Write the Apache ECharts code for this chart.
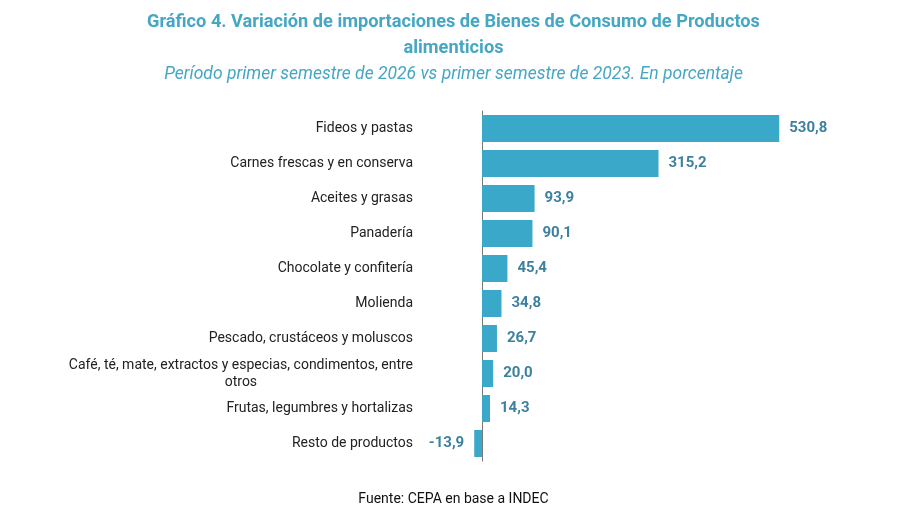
<!DOCTYPE html>
<html>
<head>
<meta charset="utf-8">
<script src="https://cdn.jsdelivr.net/npm/echarts@6/dist/echarts.min.js"></script>
<style>
  html, body { margin: 0; padding: 0; background: #fff; }
  #chart { width: 907px; height: 511px; }
</style>
</head>
<body>
<div id="chart"></div>
<script>
// categorias (de arriba hacia abajo)
var categorias = [
  'Fideos y pastas',
  'Carnes frescas y en conserva',
  'Aceites y grasas',
  'Panadería',
  'Chocolate y confitería',
  'Molienda',
  'Pescado, crustáceos y moluscos',
  'Café, té, mate, extractos y especias, condimentos, entre otros',
  'Frutas, legumbres y hortalizas',
  'Resto de productos'
];
// variacion en porcentaje
var variacion = [530.8, 315.2, 93.9, 90.1, 45.4, 34.8, 26.7, 20.0, 14.3, -13.9];

var tituloLinea1 = 'Gráfico 4. Variación de importaciones de Bienes de Consumo de Productos';
var tituloLinea2 = 'alimenticios';
var subtitulo = 'Período primer semestre de 2026 vs primer semestre de 2023. En porcentaje';
var fuente = 'Fuente: CEPA en base a INDEC';

var myChart = echarts.init(document.getElementById('chart'));

var tituloStyle = { fontSize: 18.2, fontWeight: 'bold', color: '#45a7c3', fontFamily: 'Roboto' };

// etiquetas largas: la ultima palabra pasa a la linea de abajo, centrada
function etiqueta(txt) {
  if (txt.length < 50) return txt;
  var i = txt.lastIndexOf(' ');
  return '{c|' + txt.slice(0, i) + '}\n{c|' + txt.slice(i + 1) + '}';
}

var datos = variacion.map(function (v) {
  return v < 0 ? { value: v, label: { position: 'left' } } : v;
});

var option = {
  animation: false,
  backgroundColor: '#fff',
  textStyle: { fontFamily: 'Roboto' },
  title: [
    { text: tituloLinea1, left: 'center', top: 8, textStyle: tituloStyle },
    { text: tituloLinea2, left: 'center', top: 34, textStyle: tituloStyle },
    {
      text: subtitulo,
      left: 'center',
      top: 61,
      textStyle: { fontSize: 17.5, fontWeight: 'normal', fontStyle: 'italic', color: '#45a7c3', fontFamily: 'Roboto' }
    },
    {
      text: fuente,
      left: 'center',
      top: 487,
      textStyle: { fontSize: 14, fontWeight: 'normal', color: '#111', fontFamily: 'Roboto' }
    }
  ],
  grid: { left: 454, right: 89, top: 111, height: 350 },
  xAxis: {
    type: 'value',
    min: -50,
    max: 600,
    show: false
  },
  yAxis: {
    type: 'category',
    inverse: true,
    data: categorias,
    axisLine: { onZero: true, lineStyle: { color: '#777', width: 1 } },
    axisTick: { show: false },
    axisLabel: {
      margin: 41,
      color: '#222',
      fontSize: 14,
      lineHeight: 17,
      fontFamily: 'Roboto',
      formatter: etiqueta,
      rich: {
        c: { align: 'center', fontSize: 14, lineHeight: 17, color: '#222', fontFamily: 'Roboto' }
      }
    }
  },
  series: [{
    type: 'bar',
    data: datos,
    barCategoryGap: '23%',
    itemStyle: { color: '#3aa8c8' },
    label: {
      show: true,
      position: 'right',
      distance: 10,
      color: '#3d809f',
      fontSize: 15,
      fontWeight: 'bold',
      fontFamily: 'Roboto',
      formatter: function (p) { return p.value.toFixed(1).replace('.', ','); }
    }
  }]
};

myChart.setOption(option);
</script>
</body>
</html>
